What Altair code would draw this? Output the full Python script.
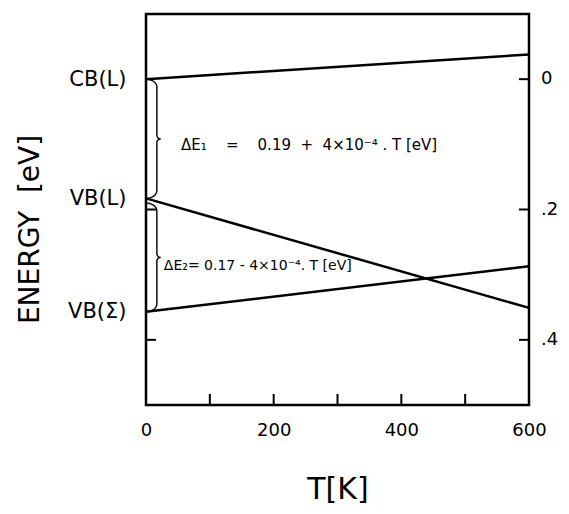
import altair as alt
import pandas as pd
import numpy as np

# ---- data ----
T_ENDS = [0, 600]
CB_L = [0.0, -0.038]
VB_L = [0.183, 0.351]
VB_S = [0.357, 0.287]
SERIES = ["CB(L)", "VB(L)", "VB(Σ)"]

LEVEL_LABELS = ["CB(L)", "VB(L)", "VB(Σ)"]
LEVEL_VALUES = [0.0, 0.183, 0.357]

X_LABELS = [0, 200, 400, 600]
X_MINOR = [100, 200, 300, 400, 500]
Y_TICKS = [0.0, 0.2, 0.4]
Y_TICK_LABELS = ["0", ".2", ".4"]
LEFT_TICKS = [0.2, 0.4]

BRACE_TOP = [0.0, 0.19]
BRACE_BOT = [0.183, 0.357]

NB = "\u00a0"
ANN_TEXT = [
    "ΔE₁" + NB * 4 + "=" + NB * 4 + "0.19" + NB * 2 + "+" + NB * 2 + "4×10⁻⁴" + NB + "." + NB + "T" + NB + "[eV]",
    "ΔE₂= 0.17 - 4×10⁻⁴. T [eV]",
]
ANN_T = [55, 28]
ANN_E = [0.101, 0.286]
ANN_SIZE = [15, 14]

W, H = 383, 391
FONT = "DejaVu Sans"

# ---- tables ----
lines_df = pd.DataFrame({
    "series": [s for s in SERIES for _ in T_ENDS],
    "T": T_ENDS * 3,
    "E": CB_L + VB_L + VB_S,
})


def brace(y0, y1, w=17.0, tip=6.0, r=0.012, r2=0.006, n=10):
    ym = (y0 + y1) / 2
    th = np.linspace(0, np.pi / 2, n)
    pts = []
    for t in th:
        pts.append((w * np.sin(t), y0 + r * (1 - np.cos(t))))
    for t in th:
        pts.append((w + tip * (1 - np.cos(t)), ym - r2 * (1 - np.sin(t))))
    for t in th[::-1]:
        pts.append((w + tip * (1 - np.cos(t)), ym + r2 * (1 - np.sin(t))))
    for t in th[::-1]:
        pts.append((w * np.sin(t), y1 - r * (1 - np.cos(t))))
    return pts


rows = []
for b, (a, c) in enumerate(zip(BRACE_TOP, BRACE_BOT)):
    for i, (x, y) in enumerate(brace(a, c)):
        rows.append({"b": b, "i": i, "T": x, "E": y})
brace_df = pd.DataFrame(rows)

ann_df = pd.DataFrame({"txt": ANN_TEXT, "T": ANN_T, "E": ANN_E, "s": ANN_SIZE})
xtick_df = pd.DataFrame({"T": X_MINOR})
rtick_df = pd.DataFrame({"E": Y_TICKS, "lab": Y_TICK_LABELS})
ltick_df = pd.DataFrame({"E": LEFT_TICKS})

label_expr = "[" + ",".join("'%s'" % s for s in LEVEL_LABELS) + "][indexof([" + \
    ",".join(repr(v) for v in LEVEL_VALUES) + "], datum.value)]"

X_ENC = alt.X(
    "T:Q",
    scale=alt.Scale(domain=[0, 600], nice=False, zero=False),
    axis=alt.Axis(values=X_LABELS, ticks=False, domain=False, grid=False,
                  labelPadding=16, labelFontSize=18, labelFlush=False,
                  title="T[K]", titleFontSize=30, titleY=84,
                  titleBaseline="middle", titleFontWeight="normal"),
)
Y_ENC = alt.Y(
    "E:Q",
    scale=alt.Scale(domain=[-0.1, 0.5], reverse=True, nice=False, zero=False),
    axis=alt.Axis(values=LEVEL_VALUES, labelExpr=label_expr, ticks=False,
                  domain=False, grid=False, labelPadding=20, labelFontSize=21,
                  title="ENERGY" + NB * 2 + "[eV]", titleFontSize=28, titleX=-116, titleY=215,
                  titleAngle=270, titleAlign="center", titleBaseline="middle",
                  titleFontWeight="normal"),
)

lines = alt.Chart(lines_df).mark_line(color="black", strokeWidth=2.5).encode(
    x=X_ENC, y=Y_ENC, detail="series:N")

braces = alt.Chart(brace_df).mark_line(color="black", strokeWidth=1.4).encode(
    x=X_ENC, y=Y_ENC, detail="b:N", order="i:Q")

ann = alt.Chart(ann_df).mark_text(align="left", baseline="middle", font=FONT,
                                  color="black").encode(
    x=X_ENC, y=Y_ENC, text="txt:N",
    size=alt.Size("s:Q", scale=None, legend=None))

xticks = alt.Chart(xtick_df).mark_rule(color="black", strokeWidth=2).encode(
    x=X_ENC, y=alt.value(H), y2=alt.value(H - 11))

rticks = alt.Chart(rtick_df).mark_rule(color="black", strokeWidth=2).encode(
    y=Y_ENC, x=alt.value(W), x2=alt.value(W - 10))

lticks = alt.Chart(ltick_df).mark_rule(color="black", strokeWidth=2).encode(
    y=Y_ENC, x=alt.value(0), x2=alt.value(10))

rlabels = alt.Chart(rtick_df).mark_text(align="left", baseline="middle",
                                        font=FONT, fontSize=18, color="black").encode(
    y=Y_ENC, x=alt.value(W + 12), text="lab:N")

chart = alt.layer(lines, braces, ann, xticks, rticks, lticks, rlabels).properties(
    width=W, height=H,
    autosize=alt.AutoSizeParams(type="none"),
    padding={"left": 138, "top": 6, "right": 32, "bottom": 101},
    background="white",
).configure_view(
    stroke="black", strokeWidth=2.5
).configure_axis(
    labelFont=FONT, titleFont=FONT, labelColor="black", titleColor="black"
)

chart.save("out.html", embed_options={"renderer": "svg", "actions": False})
